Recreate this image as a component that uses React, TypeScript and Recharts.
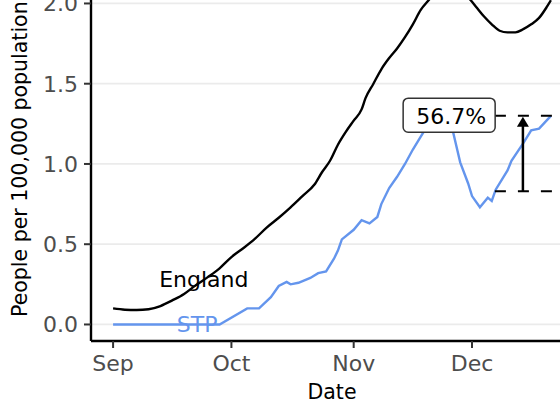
import {
  CartesianGrid,
  Line,
  LineChart,
  ReferenceDot,
  ReferenceLine,
  XAxis,
  YAxis,
} from "recharts";

// days counted from 1 Sep
const monthTicks = [0, 30, 61, 91];
const monthLabels = ["Sep", "Oct", "Nov", "Dec"];
const yTicks = [0, 0.5, 1, 1.5, 2];

const englandDays = [
  0, 3, 6, 9, 12, 15, 18, 21, 24, 27, 30, 33, 36, 39, 42, 45, 48, 51, 53, 55,
  57, 59, 61, 63, 64, 66, 68, 70, 72, 74, 76, 78, 80, 82, 85, 88, 90, 92, 94,
  96, 98, 100, 102, 104, 106, 108, 110, 111,
];
const englandValues = [
  0.1, 0.092, 0.09, 0.095, 0.115, 0.15, 0.19, 0.245, 0.295, 0.35, 0.42, 0.475,
  0.535, 0.605, 0.665, 0.73, 0.8, 0.87, 0.95, 1.02, 1.12, 1.2, 1.27, 1.34,
  1.41, 1.5, 1.59, 1.66, 1.72, 1.79, 1.87, 1.96, 2.02, 2.08, 2.12, 2.1, 2.04,
  1.98, 1.92, 1.87, 1.83, 1.82, 1.82, 1.84, 1.87, 1.91, 1.98, 2.02,
];

const stpDays = [
  0, 10, 20, 27, 34, 37, 40, 42, 44, 45, 47, 50, 52, 54, 56, 57, 58, 61, 63,
  65, 67, 68, 70, 72, 74, 76, 78, 80, 82, 84, 86, 88, 90, 91, 93, 95, 96, 97,
  100, 101, 104, 106, 108, 111,
];
const stpValues = [
  0, 0, 0, 0, 0.1, 0.1, 0.17, 0.24, 0.265, 0.25, 0.26, 0.29, 0.32, 0.33, 0.41,
  0.46, 0.53, 0.59, 0.65, 0.63, 0.67, 0.75, 0.85, 0.92, 1.0, 1.09, 1.17, 1.25,
  1.31, 1.3, 1.22, 1.01, 0.88, 0.8, 0.73, 0.79, 0.77, 0.84, 0.96, 1.02, 1.13,
  1.21, 1.22, 1.3,
];

// annotation: rise from the December trough to the latest value
const changeLabel = "56.7%";
const changeLow = 0.83;
const changeHigh = 1.3;
const changeFrom = 96.8;
const changeTo = 111.3;
const arrowDay = 103.9;
const labelDay = 85.2;

const FONT = "DejaVu Sans";

const englandData = englandDays.map((d, i) => ({ d, v: englandValues[i] }));
const stpData = stpDays.map((d, i) => ({ d, v: stpValues[i] }));

function LabelBox(props: any) {
  const { cx, cy } = props;
  return (
    <g>
      <rect
        x={cx - 46}
        y={cy - 17}
        width={92}
        height={34}
        rx={5}
        fill="#fff"
        stroke="#333"
        strokeWidth={1.5}
      />
      <text
        x={cx + 2}
        y={cy + 1}
        textAnchor="middle"
        dominantBaseline="central"
        fontSize={22}
        fontFamily={FONT}
        fill="#000"
      >
        {changeLabel}
      </text>
    </g>
  );
}

function ArrowHead(props: any) {
  const { cx, cy } = props;
  return (
    <path
      d={`M${cx},${cy} L${cx + 6},${cy + 10} L${cx - 6},${cy + 10} Z`}
      fill="#000"
    />
  );
}

function DateTitle(props: any) {
  const vb = props.viewBox;
  return (
    <text
      x={vb.x + vb.width / 2}
      y={vb.y + 58}
      textAnchor="middle"
      fontSize={20.5}
      fontFamily={FONT}
      fill="#000"
    >
      Date
    </text>
  );
}

function PeopleTitle(props: any) {
  const vb = props.viewBox;
  const x = 27;
  const y = vb.y + vb.height / 2;
  return (
    <text
      x={x}
      y={y}
      transform={`rotate(-90 ${x} ${y})`}
      textAnchor="middle"
      fontSize={20.5}
      fontFamily={FONT}
      fill="#000"
    >
      People per 100,000 population
    </text>
  );
}

export default function App() {
  return (
    <div
      style={{
        position: "fixed",
        left: 0,
        top: 0,
        width: 560,
        height: 403,
        overflow: "hidden",
        background: "#fff",
      }}
    >
      <div style={{ position: "absolute", left: 0, top: -40 }}>
        <LineChart
          width={573}
          height={444}
          margin={{ top: 17.3, right: 0, bottom: 0, left: 0 }}
          style={{ fontFamily: FONT }}
        >
          <CartesianGrid vertical={false} stroke="#EBEBEB" strokeWidth={1.8} />
          <XAxis
            dataKey="d"
            type="number"
            domain={[-5.6, 116.6]}
            allowDataOverflow
            ticks={monthTicks}
            tickFormatter={(v: number) => monthLabels[monthTicks.indexOf(v)]}
            height={63}
            tickSize={7}
            tickMargin={7}
            axisLine={{ stroke: "#000", strokeWidth: 2.4 }}
            tickLine={{ stroke: "#333", strokeWidth: 2 }}
            tick={{ fill: "#4D4D4D", fontSize: 22 }}
            label={{ content: DateTitle }}
          />
          <YAxis
            type="number"
            domain={[-0.103, 2.163]}
            allowDataOverflow
            ticks={yTicks}
            tickFormatter={(v: number) => v.toFixed(1)}
            width={91}
            tickSize={7}
            tickMargin={6}
            axisLine={{ stroke: "#000", strokeWidth: 2.4 }}
            tickLine={{ stroke: "#333", strokeWidth: 2 }}
            tick={{ fill: "#4D4D4D", fontSize: 22 }}
            label={{ content: PeopleTitle }}
          />
          <Line
            data={englandData}
            dataKey="v"
            type="monotone"
            stroke="#000"
            strokeWidth={2.4}
            dot={false}
            isAnimationActive={false}
          />
          <Line
            data={stpData}
            dataKey="v"
            type="linear"
            stroke="#6495ED"
            strokeWidth={2.4}
            dot={false}
            isAnimationActive={false}
          />
          <ReferenceDot
            x={23}
            y={0.28}
            r={0}
            fill="none"
            stroke="none"
            label={{ value: "England", position: "center", fill: "#000", fontSize: 22 }}
          />
          <ReferenceDot
            x={21.3}
            y={0.0}
            r={0}
            fill="none"
            stroke="none"
            label={{ value: "STP", position: "center", fill: "#6495ED", fontSize: 22 }}
          />
          <ReferenceLine
            segment={[
              { x: changeFrom, y: changeHigh },
              { x: changeTo, y: changeHigh },
            ]}
            stroke="#000"
            strokeWidth={2}
            strokeDasharray="11 12"
          />
          <ReferenceLine
            segment={[
              { x: changeFrom, y: changeLow },
              { x: changeTo, y: changeLow },
            ]}
            stroke="#000"
            strokeWidth={2}
            strokeDasharray="11 12"
          />
          <ReferenceLine
            segment={[
              { x: arrowDay, y: changeLow },
              { x: arrowDay, y: changeHigh - 0.04 },
            ]}
            stroke="#000"
            strokeWidth={2.5}
          />
          <ReferenceDot x={arrowDay} y={changeHigh - 0.006} shape={ArrowHead} />
          <ReferenceDot x={labelDay} y={1.304} shape={LabelBox} />
        </LineChart>
      </div>
    </div>
  );
}
